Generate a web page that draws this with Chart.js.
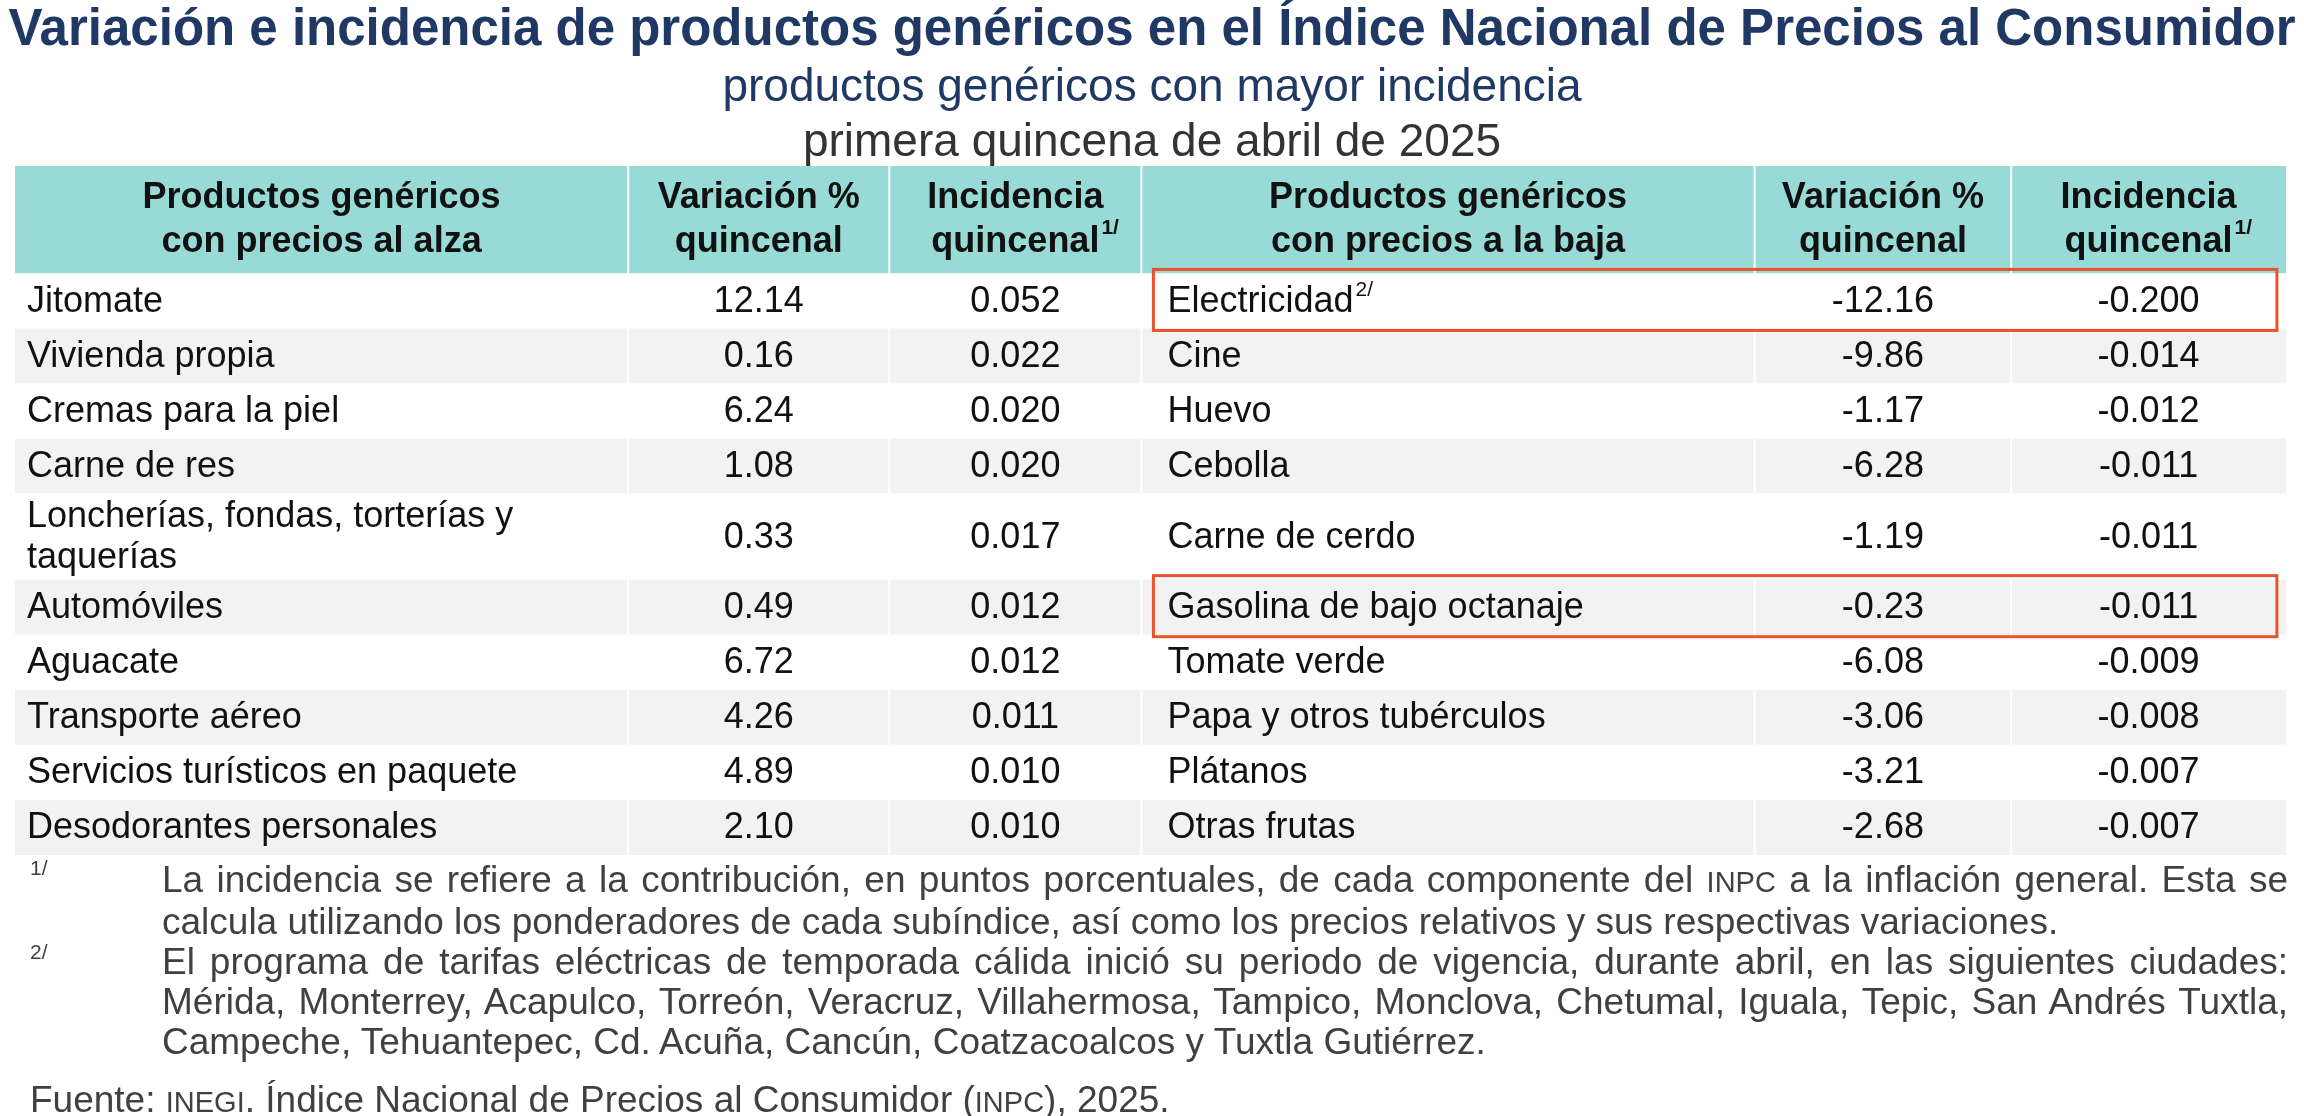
<!DOCTYPE html>
<html><head><meta charset="utf-8">
<script src="https://cdn.jsdelivr.net/npm/chart.js@4/dist/chart.umd.min.js"></script>
<style>
body{margin:0;background:#fff;font-family:"Liberation Sans",Arial,sans-serif;width:2304px;height:1116px;position:relative;overflow:hidden}
#c{position:absolute;left:0;top:0}
.t{position:absolute;left:0;width:2304px;text-align:center;white-space:nowrap}
.fn{position:absolute;left:162px;width:2126px;font-size:37px;color:#404040;line-height:40px;text-align:justify}
.sup{position:absolute;left:30px;font-size:21px;color:#404040}
.sc{font-size:29px}
</style></head><body>
<canvas id="c" width="2304" height="1116"></canvas>
<div class="t" style="top:-2px;font-size:51px;font-weight:bold;color:#1f3864">Variación e incidencia de productos genéricos en el Índice Nacional de Precios al Consumidor</div>
<div class="t" style="top:58px;font-size:46px;color:#1f3864">productos genéricos con mayor incidencia</div>
<div class="t" style="top:113px;font-size:46px;color:#333">primera quincena de abril de 2025</div>
<div class="sup" style="top:856px">1/</div>
<div class="fn" style="top:860px">La incidencia se refiere a la contribución, en puntos porcentuales, de cada componente del <span class="sc">INPC</span> a la inflación general. Esta se calcula utilizando los ponderadores de cada subíndice, así como los precios relativos y sus respectivas variaciones.</div>
<div class="sup" style="top:940px">2/</div>
<div class="fn" style="top:942px">El programa de tarifas eléctricas de temporada cálida inició su periodo de vigencia, durante abril, en las siguientes ciudades: Mérida, Monterrey, Acapulco, Torreón, Veracruz, Villahermosa, Tampico, Monclova, Chetumal, Iguala, Tepic, San Andrés Tuxtla, Campeche, Tehuantepec, Cd. Acuña, Cancún, Coatzacoalcos y Tuxtla Gutiérrez.</div>
<div class="fn" style="top:1080px;left:30px;width:2000px">Fuente: <span class="sc">INEGI</span>. Índice Nacional de Precios al Consumidor (<span class="sc">INPC</span>), 2025.</div>
<script>
// datos
const headers = [
  ['Productos genéricos', 'con precios al alza'], ['Variación %', 'quincenal'], ['Incidencia', 'quincenal'],
  ['Productos genéricos', 'con precios a la baja'], ['Variación %', 'quincenal'], ['Incidencia', 'quincenal']
];
const upNames = ['Jitomate', 'Vivienda propia', 'Cremas para la piel', 'Carne de res',
  'Loncherías, fondas, torterías y|taquerías', 'Automóviles', 'Aguacate', 'Transporte aéreo',
  'Servicios turísticos en paquete', 'Desodorantes personales'];
const upVar = ['12.14', '0.16', '6.24', '1.08', '0.33', '0.49', '6.72', '4.26', '4.89', '2.10'];
const upInc = ['0.052', '0.022', '0.020', '0.020', '0.017', '0.012', '0.012', '0.011', '0.010', '0.010'];
const downNames = ['Electricidad', 'Cine', 'Huevo', 'Cebolla', 'Carne de cerdo', 'Gasolina de bajo octanaje',
  'Tomate verde', 'Papa y otros tubérculos', 'Plátanos', 'Otras frutas'];
const downVar = ['-12.16', '-9.86', '-1.17', '-6.28', '-1.19', '-0.23', '-6.08', '-3.06', '-3.21', '-2.68'];
const downInc = ['-0.200', '-0.014', '-0.012', '-0.011', '-0.011', '-0.011', '-0.009', '-0.008', '-0.007', '-0.007'];
const boxedRows = [0, 5];

// layout
const colEdges = [0, 27.0, 38.5, 49.6, 76.6, 87.9, 100];
const headerSpan = 1.95;
const rowSpans = [1, 1, 1, 1, 1.56, 1, 1, 1, 1, 1];
const rowTops = [];
let acc = headerSpan;
rowSpans.forEach(s => { rowTops.push(acc); acc += s; });

const FONT = '"Liberation Sans", Arial';

const tablePlugin = {
  id: 'table',
  afterDraw(chart) {
    const ctx = chart.ctx, xs = chart.scales.x, ys = chart.scales.y;
    const X = v => xs.getPixelForValue(v), Y = v => ys.getPixelForValue(v);
    ctx.save();
    ctx.fillStyle = '#97dad6';
    ctx.fillRect(X(0), Y(0), X(100) - X(0), Y(headerSpan) - Y(0));
    rowSpans.forEach((s, i) => {
      ctx.fillStyle = i % 2 ? '#f2f2f2' : '#ffffff';
      ctx.fillRect(X(0), Y(rowTops[i]), X(100) - X(0), Y(rowTops[i] + s) - Y(rowTops[i]));
    });
    ctx.strokeStyle = '#ffffff'; ctx.lineWidth = 2;
    colEdges.slice(1, -1).forEach(e => {
      ctx.beginPath(); ctx.moveTo(X(e), Y(0)); ctx.lineTo(X(e), Y(acc)); ctx.stroke();
    });
    // header text
    ctx.fillStyle = '#111'; ctx.textAlign = 'center'; ctx.textBaseline = 'middle';
    ctx.font = 'bold 36px ' + FONT;
    headers.forEach((h, c) => {
      const cx = (X(colEdges[c]) + X(colEdges[c + 1])) / 2;
      const my = (Y(0) + Y(headerSpan)) / 2;
      ctx.fillText(h[0], cx, my - 22);
      ctx.fillText(h[1], cx, my + 22);
      if (c === 2 || c === 5) {
        const w = ctx.measureText(h[1]).width;
        ctx.font = 'bold 21px ' + FONT;
        ctx.textAlign = 'left';
        ctx.fillText('1/', cx + w / 2 + 2, my + 9);
        ctx.font = 'bold 36px ' + FONT; ctx.textAlign = 'center';
      }
    });
    // body
    ctx.font = '36px ' + FONT;
    const cols = [upNames, upVar, upInc, downNames, downVar, downInc];
    rowSpans.forEach((s, i) => {
      const my = (Y(rowTops[i]) + Y(rowTops[i] + s)) / 2 + 1;
      cols.forEach((col, c) => {
        const txt = col[i];
        if (c === 0 || c === 3) {
          ctx.textAlign = 'left';
          const lx = X(colEdges[c]) + (c === 0 ? 12 : 26);
          const parts = txt.split('|');
          parts.forEach((p, k) => ctx.fillText(p, lx, my + (k - (parts.length - 1) / 2) * 41));
          if (c === 3 && i === 0) {
            const w = ctx.measureText(txt).width;
            ctx.font = '21px ' + FONT;
            ctx.fillText('2/', lx + w + 2, my - 12);
            ctx.font = '36px ' + FONT;
          }
        } else {
          ctx.textAlign = 'center';
          ctx.fillText(txt, (X(colEdges[c]) + X(colEdges[c + 1])) / 2, my);
        }
      });
    });
    // red boxes
    ctx.strokeStyle = '#e8532c'; ctx.lineWidth = 3;
    boxedRows.forEach(i => {
      const t = Y(rowTops[i]) - 4, b = Y(rowTops[i] + rowSpans[i]) + 2;
      ctx.strokeRect(X(colEdges[3]) + 12, t, X(99.6) - X(colEdges[3]) - 12, b - t);
    });
    ctx.restore();
  }
};

new Chart(document.getElementById('c'), {
  type: 'scatter',
  data: { datasets: [{ data: [] }] },
  options: {
    responsive: false, animation: false, devicePixelRatio: 1,
    layout: { padding: { left: 15, right: 18, top: 166, bottom: 261 } },
    plugins: { legend: { display: false }, tooltip: { enabled: false } },
    scales: {
      x: { type: 'linear', min: 0, max: 100, display: false },
      y: { type: 'linear', min: 0, max: acc, reverse: true, display: false }
    }
  },
  plugins: [tablePlugin]
});
</script>
</body></html>
